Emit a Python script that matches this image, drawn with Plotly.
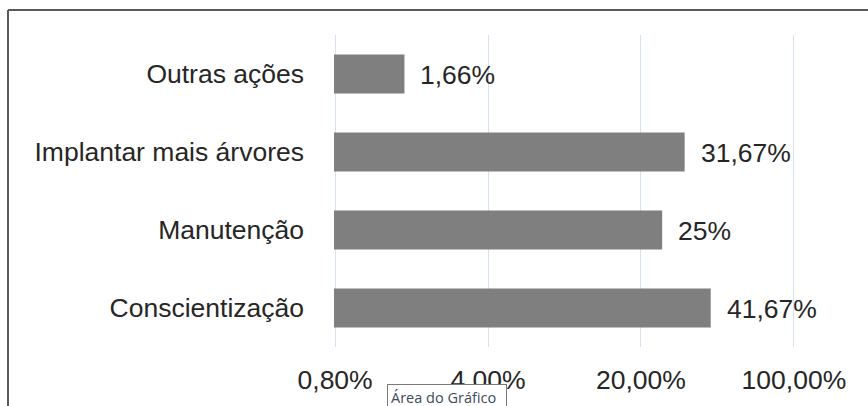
import math
import plotly.graph_objects as go

categories = ["Outras ações", "Implantar mais árvores", "Manutenção", "Conscientização"]
values = [0.0166, 0.3167, 0.25, 0.4167]
value_labels = ["1,66%", "31,67%", "25%", "41,67%"]
tick_values = [0.008, 0.04, 0.2, 1.0]
tick_labels = ["0,80%", "4,00%", "20,00%", "100,00%"]

W, H = 868, 406
L, R, T, B = 334, 73, 35, 59
pw, ph = W - L - R, H - T - B

def px(x):
    return (x - L) / pw

def py(y):
    return (H - B - y) / ph

FONT = "Liberation Sans, Arial, sans-serif"
TXT = "#262626"

fig = go.Figure()
fig.add_trace(go.Bar(
    y=categories, x=values, orientation="h",
    marker=dict(color="#7f7f7f", line=dict(width=0)),
    hoverinfo="skip", showlegend=False,
))

annotations = []
for c, v, lab in zip(categories, values, value_labels):
    annotations.append(dict(
        x=math.log10(v), y=c, xref="x", yref="y", text=lab, showarrow=False,
        xanchor="left", yanchor="middle", xshift=14, yshift=-1,
        font=dict(family=FONT, size=26.5, color=TXT),
    ))

annotations.append(dict(
    x=px(387), y=py(384), xref="paper", yref="paper",
    text="Área do Gráfico", showarrow=False,
    xanchor="left", yanchor="top", align="left", valign="top",
    width=112, height=24, borderpad=3,
    bgcolor="white", bordercolor="#7a7a7a", borderwidth=1,
    font=dict(family="Open Sans, Noto Sans, sans-serif", size=14.5, color="#3c4a5a"),
))

lo = math.log10(tick_values[0]) - 0.005
hi = math.log10(tick_values[-1]) + 0.005

fig.update_layout(
    width=W, height=H,
    margin=dict(l=L, r=R, t=T, b=B, pad=0),
    paper_bgcolor="white", plot_bgcolor="white",
    bargap=0.5,
    annotations=annotations,
    shapes=[
        dict(type="line", xref="paper", yref="paper",
             x0=px(8), x1=px(870), y0=py(10), y1=py(10),
             line=dict(color="#5a5a5a", width=2)),
        dict(type="line", xref="paper", yref="paper",
             x0=px(8), x1=px(8), y0=py(10), y1=py(410),
             line=dict(color="#5a5a5a", width=2)),
    ],
    xaxis=dict(
        type="log", range=[lo, hi],
        tickvals=tick_values, ticktext=tick_labels,
        showgrid=True, gridcolor="#d6e2f3", gridwidth=1,
        zeroline=False, showline=False, ticks="",
        ticklabelstandoff=14,
        tickfont=dict(family=FONT, size=26.5, color=TXT),
        fixedrange=True,
    ),
    yaxis=dict(
        autorange="reversed", showgrid=False, zeroline=False,
        showline=False, ticks="", ticklabelstandoff=29,
        tickfont=dict(family=FONT, size=26.5, color=TXT),
        fixedrange=True,
    ),
)

fig.write_html("out.html")
